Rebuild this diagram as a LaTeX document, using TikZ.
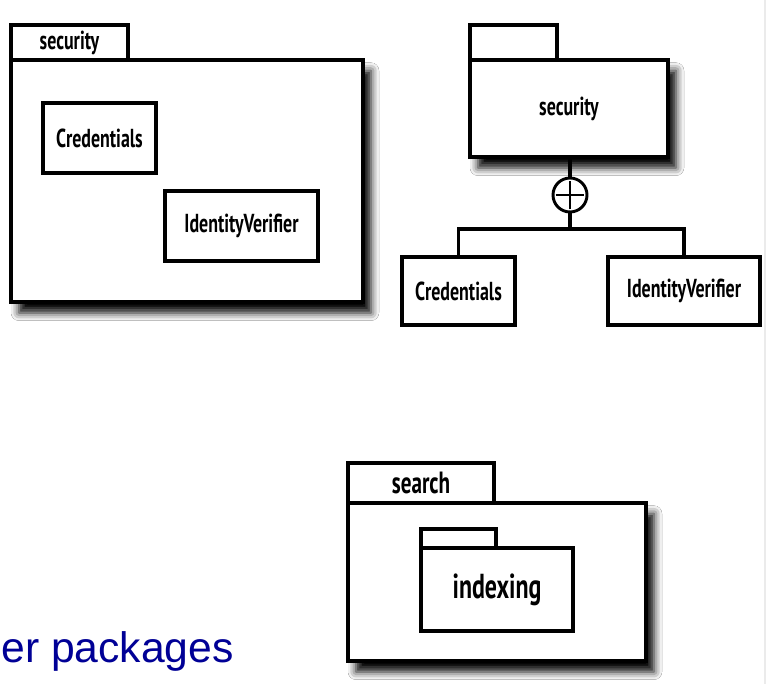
\documentclass[tikz,border=0pt]{standalone}
\usepackage{tikz}
\usepackage{xcolor}
\usepackage{fontspec}
\usetikzlibrary{shadows.blur}

\newfontfamily\umlfont[FakeStretch=0.69]{PT Sans}
\newfontfamily\slidefont{Liberation Sans}
\definecolor{slideblue}{RGB}{0,0,150}

\tikzset{
  box/.style={draw, line width=2.6pt, fill=white, inner sep=0pt,
    font=\umlfont\bfseries\fontsize{19.5}{22}\selectfont},
  pkgbody/.style={box, blur shadow={shadow xshift=6pt, shadow yshift=-8pt,
    shadow blur radius=6pt, shadow opacity=100}},
  link/.style={line width=2.6pt},
}

\begin{document}
\begin{tikzpicture}[x=0.75pt, y=-0.75pt]
        \fill[white] (0,0) rectangle (766,684);
        \useasboundingbox (0,0) rectangle (766,684);
        \clip (0,0) rectangle (766,684);
        \draw[black!8, line width=2pt] (765,0) -- (765,684);

        % Nested view
        \node[box, minimum width=87.75pt, minimum height=26.25pt] (SecTab) at (69.5, 42.5) {security};
        \node[pkgbody, minimum width=264pt, minimum height=181.5pt] (SecBody) at (187, 181) {};
        \node[box, minimum width=84.75pt, minimum height=52.5pt] (Cred) at (99.5, 138) {Credentials};
        \node[box, minimum width=114.75pt, minimum height=52.5pt] (IdV) at (241.5, 226) {IdentityVerifier};

        % Tree view
        \node[box, minimum width=65.25pt, minimum height=26.25pt] (SecTabB) at (513.5, 42.5) {};
        \node[pkgbody, minimum width=148.5pt, minimum height=72.75pt] (SecBodyB) at (569, 108.5) {security};
        \node[draw, circle, line width=2.2pt, fill=white, minimum size=25.5pt, inner sep=0pt] (Plus) at (570, 195) {};
        \coordinate (Fork) at (570, 229);
        \node[box, minimum width=84.75pt, minimum height=51pt] (CredB) at (458.5, 291) {Credentials};
        \node[box, minimum width=114pt, minimum height=51pt] (IdVB) at (684, 291) {IdentityVerifier};

        % Lines
        \draw[link] (SecBodyB.south -| Plus) -- (Plus.north);
        \draw[link] (Plus.south) -- (Fork);
        \draw[link] (CredB.north) |- (Fork) -| (IdVB.north);
        \draw[line width=2.2pt] ([xshift=3pt]Plus.west) -- ([xshift=-3pt]Plus.east);
        \draw[line width=2.2pt] ([yshift=3pt]Plus.south) -- ([yshift=-3pt]Plus.north);

        % Search package
        \node[box, minimum width=109.5pt, minimum height=30pt, font=\umlfont\bfseries\fontsize{23}{26}\selectfont] (SearchTab) at (421, 483) {search};
        \node[pkgbody, minimum width=223.5pt, minimum height=118.5pt] (SearchBody) at (497, 582) {};
        \node[box, minimum width=56.25pt, minimum height=14.25pt] (IdxTab) at (458.5, 538.5) {};
        \node[box, minimum width=114pt, minimum height=62.25pt, font=\umlfont\bfseries\fontsize{26}{30}\selectfont] (IdxBody) at (497, 589.5) {indexing};

        % Caption
        \node[anchor=base east, inner sep=0pt, text=slideblue, font=\slidefont\fontsize{32}{38}\selectfont] (Title) at (234, 662) {er packages};
    \end{tikzpicture}
\end{document}
